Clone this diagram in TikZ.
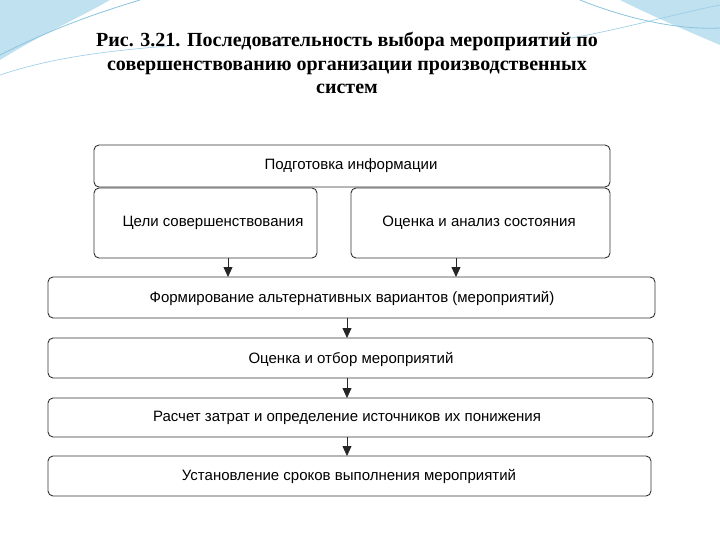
\documentclass[tikz,border=0pt]{standalone}
\usepackage{fontspec}
\setmainfont{Liberation Serif}
\newfontfamily\arialf{Liberation Sans}
\usetikzlibrary{arrows.meta}
\definecolor{swoosh}{RGB}{150,205,230}
\definecolor{swooshd}{RGB}{90,170,210}
\tikzset{
  pbox/.style={draw=black!80, line width=0.9pt, rounded corners=5pt},
  ptxt/.style={font=\arialf\fontsize{15}{17}\selectfont},
  parr/.style={draw=black!85, line width=0.8pt, -{Triangle[width=9pt,length=10pt]}}
}
\begin{document}
\begin{tikzpicture}[x=1pt,y=-1pt]
\useasboundingbox (0,0) rectangle (720,540);
\fill[white] (0,0) rectangle (720,540);
% decorative swooshes
\fill[swoosh!60] (0,0) -- (110,0) .. controls (75,20) and (40,35) .. (0,60) -- cycle;
\draw[swooshd!70, line width=0.8pt] (0,55) .. controls (50,30) and (90,15) .. (140,0);
\draw[swoosh, line width=0.6pt] (0,75) .. controls (60,55) and (120,50) .. (180,45);
\fill[swoosh!60] (720,0) -- (620,0) .. controls (650,15) and (685,30) .. (720,45) -- cycle;
\draw[swooshd!70, line width=0.8pt] (580,0) .. controls (630,20) and (680,30) .. (720,28);
\draw[swoosh, line width=0.6pt] (560,40) .. controls (620,30) and (670,15) .. (720,5);
% title
\node[font=\bfseries\fontsize{20}{23.5}\selectfont, align=center] (title) at (347,63)
 {Рис. 3.21. Последовательность выбора мероприятий по\\совершенствованию организации производственных\\систем};
% boxes
\draw[pbox] (94,145) rectangle (610,187);
\node[ptxt] (b1) at (351,166) {Подготовка информации};
\draw[pbox] (94,188) rectangle (317,258);
\node[ptxt] (b2) at (213,223) {Цели совершенствования};
\draw[pbox] (351,188) rectangle (610,258);
\node[ptxt] (b3) at (479,223) {Оценка и анализ состояния};
\draw[pbox] (48,277) rectangle (655,318);
\node[ptxt] (b4) at (352,298) {Формирование альтернативных вариантов (мероприятий)};
\draw[pbox] (48,338) rectangle (653,378);
\node[ptxt] (b5) at (351,359) {Оценка и отбор мероприятий};
\draw[pbox] (48,398) rectangle (653,437);
\node[ptxt] (b6) at (347,418) {Расчет затрат и определение источников их понижения};
\draw[pbox] (48,456) rectangle (651,496);
\node[ptxt] (b7) at (349,476) {Установление сроков выполнения мероприятий};
% arrows
\coordinate (a1s) at (228,258); \coordinate (a1e) at (228,277);
\coordinate (a2s) at (456,258); \coordinate (a2e) at (456,277);
\coordinate (a3s) at (347,318); \coordinate (a3e) at (347,338);
\coordinate (a4s) at (347,378); \coordinate (a4e) at (347,398);
\coordinate (a5s) at (347,437); \coordinate (a5e) at (347,456);
\draw[parr] (a1s) -- (a1e);
\draw[parr] (a2s) -- (a2e);
\draw[parr] (a3s) -- (a3e);
\draw[parr] (a4s) -- (a4e);
\draw[parr] (a5s) -- (a5e);
\end{tikzpicture}
\end{document}
